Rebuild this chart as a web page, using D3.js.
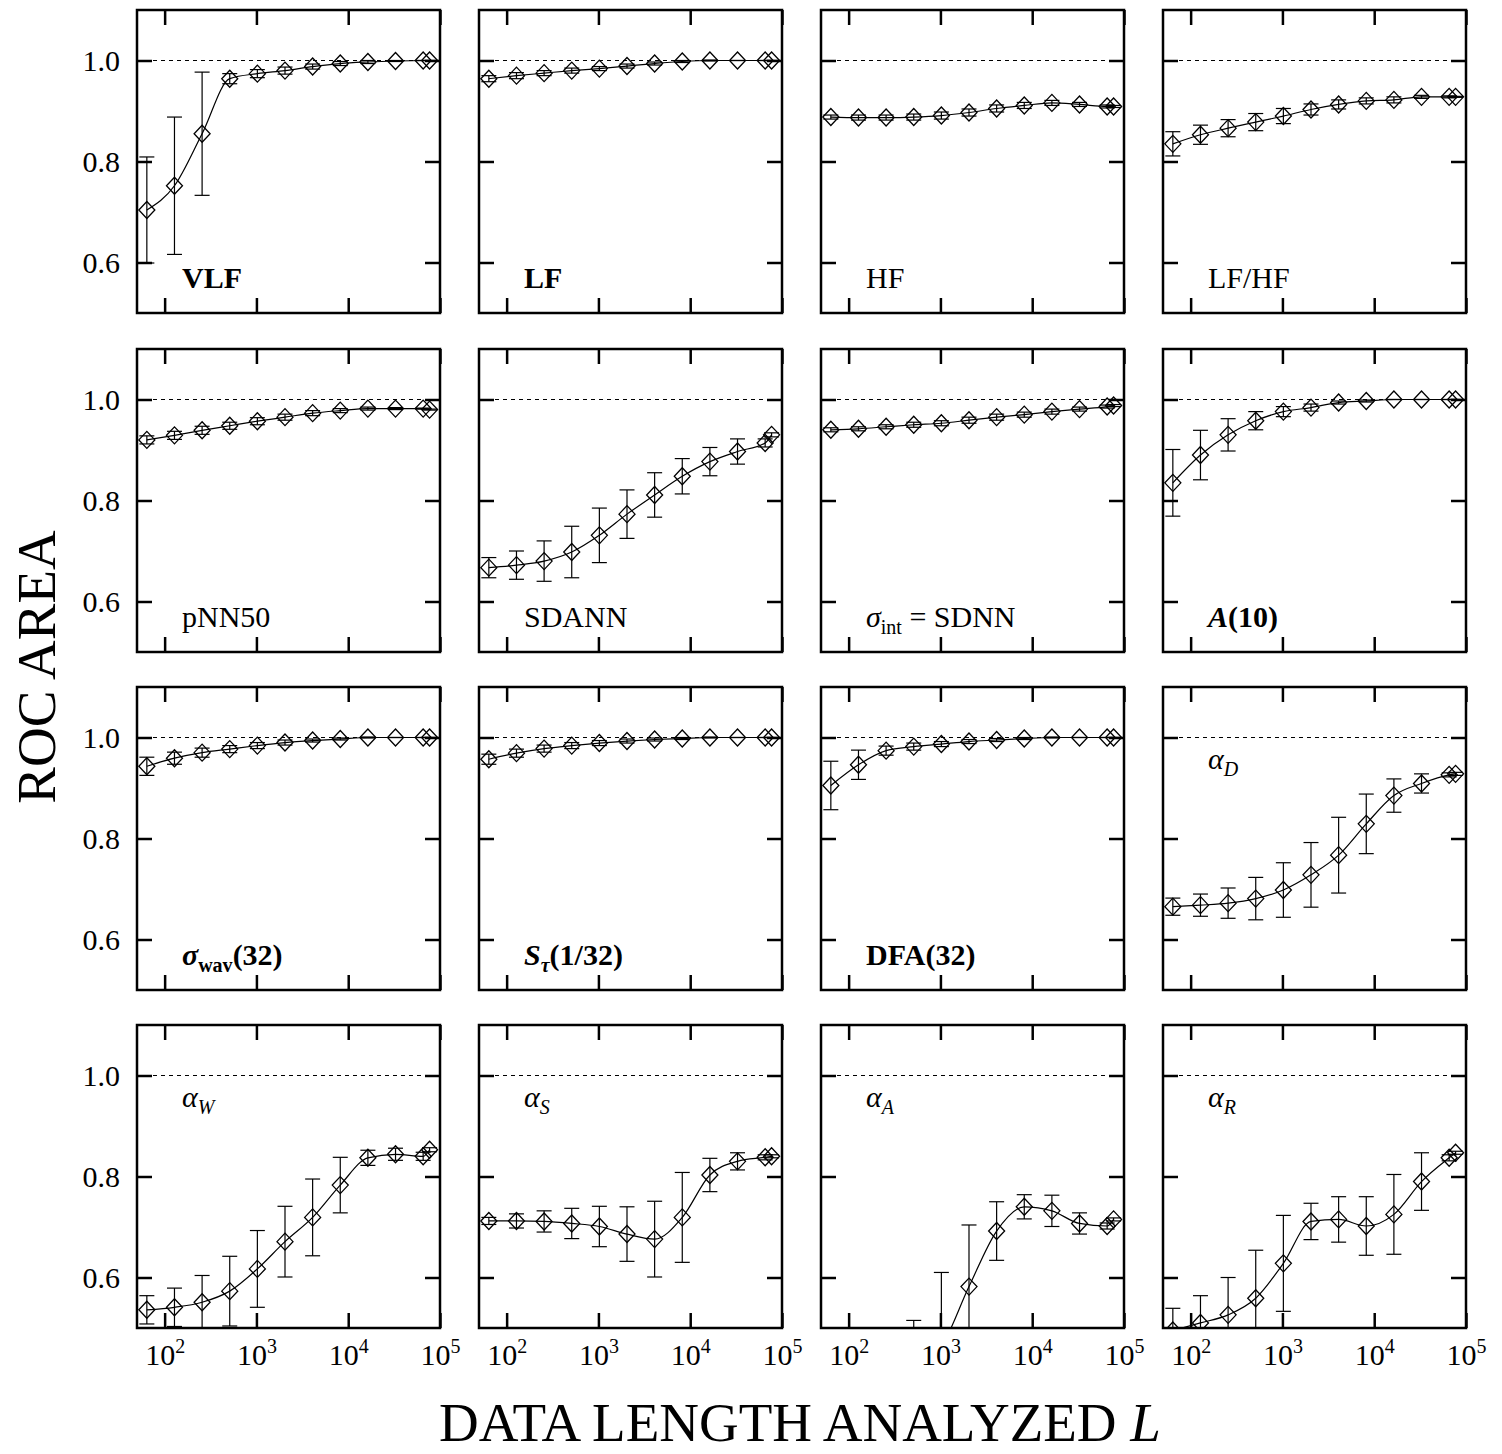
<!DOCTYPE html>
<html>
<head>
<meta charset="utf-8">
<script src="https://cdn.jsdelivr.net/npm/d3@7"></script>
<style>
  body { margin: 0; background: #fff; }
  svg text { font-family: "Liberation Serif", "Times New Roman", serif; fill: #000; white-space: pre; }
</style>
</head>
<body>
<svg id="chart" width="1502" height="1454"></svg>
<script>
// data length analyzed (beats); last point is the full record
var lengths = [64, 128, 256, 512, 1024, 2048, 4096, 8192, 16384, 32768, 65536, 77000];

var vlf     = [0.704, 0.752, 0.855, 0.964, 0.974, 0.980, 0.988, 0.994, 0.997, 0.999, 1.000, 1.000];
var vlfErr  = [0.105, 0.136, 0.122, 0.010, 0.008, 0.007, 0.005, 0.004, 0.003, 0.001, 0, 0];
var lf      = [0.964, 0.970, 0.975, 0.980, 0.984, 0.989, 0.994, 0.998, 1.000, 1.000, 1.000, 1.000];
var lfErr   = [0.006, 0.006, 0.005, 0.005, 0.004, 0.004, 0.003, 0.002, 0.001, 0, 0, 0];
var hf      = [0.888, 0.887, 0.887, 0.888, 0.891, 0.897, 0.905, 0.911, 0.916, 0.913, 0.909, 0.909];
var hfErr   = [0.004, 0.005, 0.005, 0.006, 0.007, 0.007, 0.007, 0.006, 0.005, 0.004, 0.003, 0.002];
var lfhf    = [0.835, 0.853, 0.866, 0.878, 0.890, 0.903, 0.913, 0.920, 0.922, 0.928, 0.928, 0.928];
var lfhfErr = [0.024, 0.019, 0.017, 0.017, 0.015, 0.011, 0.009, 0.006, 0.006, 0.003, 0.002, 0.001];

var pnn50    = [0.920, 0.929, 0.939, 0.948, 0.957, 0.965, 0.973, 0.978, 0.982, 0.982, 0.982, 0.980];
var pnn50Err = [0.008, 0.008, 0.008, 0.007, 0.007, 0.006, 0.005, 0.004, 0.003, 0.002, 0.001, 0.001];
var sdann    = [0.667, 0.672, 0.680, 0.698, 0.731, 0.773, 0.811, 0.848, 0.877, 0.897, 0.914, 0.930];
var sdannErr = [0.020, 0.028, 0.040, 0.051, 0.054, 0.048, 0.044, 0.035, 0.028, 0.025, 0.008, 0.004];
var sdnn     = [0.940, 0.942, 0.946, 0.950, 0.953, 0.959, 0.965, 0.970, 0.976, 0.981, 0.986, 0.988];
var sdnnErr  = [0.004, 0.004, 0.004, 0.005, 0.005, 0.006, 0.006, 0.005, 0.005, 0.004, 0.003, 0.002];
var a10      = [0.835, 0.890, 0.930, 0.958, 0.976, 0.984, 0.994, 0.997, 1.000, 1.000, 1.000, 1.000];
var a10Err   = [0.066, 0.049, 0.032, 0.018, 0.010, 0.007, 0.003, 0.002, 0, 0, 0, 0];

var swav     = [0.943, 0.959, 0.970, 0.977, 0.984, 0.990, 0.994, 0.997, 1.000, 1.000, 1.000, 1.000];
var swavErr  = [0.018, 0.012, 0.009, 0.007, 0.006, 0.005, 0.003, 0.002, 0.001, 0, 0, 0];
var stau     = [0.957, 0.969, 0.978, 0.984, 0.989, 0.993, 0.996, 0.998, 1.000, 1.000, 1.000, 1.000];
var stauErr  = [0.010, 0.008, 0.007, 0.006, 0.005, 0.004, 0.003, 0.002, 0.001, 0, 0, 0];
var dfa      = [0.905, 0.946, 0.974, 0.982, 0.987, 0.992, 0.995, 0.998, 1.000, 1.000, 1.000, 1.000];
var dfaErr   = [0.048, 0.029, 0.009, 0.007, 0.005, 0.004, 0.003, 0.002, 0.001, 0, 0, 0];
var alphaD   = [0.665, 0.668, 0.672, 0.681, 0.698, 0.728, 0.767, 0.829, 0.885, 0.909, 0.926, 0.928];
var alphaDErr= [0.017, 0.022, 0.030, 0.042, 0.054, 0.064, 0.075, 0.059, 0.033, 0.019, 0.004, 0.003];

var alphaW   = [0.536, 0.541, 0.551, 0.573, 0.617, 0.671, 0.719, 0.783, 0.837, 0.844, 0.840, 0.853];
var alphaWErr= [0.028, 0.038, 0.053, 0.069, 0.076, 0.070, 0.076, 0.055, 0.015, 0.012, 0.008, 0.004];
var alphaS   = [0.712, 0.712, 0.711, 0.707, 0.701, 0.686, 0.676, 0.719, 0.803, 0.830, 0.838, 0.840];
var alphaSErr= [0.007, 0.014, 0.021, 0.030, 0.040, 0.054, 0.075, 0.089, 0.033, 0.017, 0.005, 0.003];
var alphaA   = [0.400, 0.400, 0.410, 0.420, 0.463, 0.582, 0.692, 0.740, 0.732, 0.707, 0.702, 0.715];
var alphaAErr= [0.050, 0.060, 0.070, 0.095, 0.147, 0.122, 0.058, 0.024, 0.031, 0.021, 0.006, 0.003];
var alphaR   = [0.495, 0.510, 0.526, 0.559, 0.628, 0.711, 0.715, 0.702, 0.725, 0.790, 0.837, 0.847];
var alphaRErr= [0.044, 0.054, 0.074, 0.095, 0.095, 0.036, 0.045, 0.058, 0.079, 0.057, 0.006, 0.003];

var yTicks = [0.6, 0.8, 1.0];
var xTicks = [1e2, 1e3, 1e4, 1e5];

// label pieces: b = bold, i = italic, sub = subscript
var panels = [
  {mean: vlf,    err: vlfErr,    pos: 'bottom', label: [{t: 'VLF', b: 1}]},
  {mean: lf,     err: lfErr,     pos: 'bottom', label: [{t: 'LF', b: 1}]},
  {mean: hf,     err: hfErr,     pos: 'bottom', label: [{t: 'HF'}]},
  {mean: lfhf,   err: lfhfErr,   pos: 'bottom', label: [{t: 'LF/HF'}]},
  {mean: pnn50,  err: pnn50Err,  pos: 'bottom', label: [{t: 'pNN50'}]},
  {mean: sdann,  err: sdannErr,  pos: 'bottom', label: [{t: 'SDANN'}]},
  {mean: sdnn,   err: sdnnErr,   pos: 'bottom', label: [{t: 'σ', i: 1}, {t: 'int', sub: 1}, {t: ' = SDNN'}]},
  {mean: a10,    err: a10Err,    pos: 'bottom', label: [{t: 'A', b: 1, i: 1}, {t: '(10)', b: 1}]},
  {mean: swav,   err: swavErr,   pos: 'bottom', label: [{t: 'σ', b: 1, i: 1}, {t: 'wav', b: 1, sub: 1}, {t: '(32)', b: 1}]},
  {mean: stau,   err: stauErr,   pos: 'bottom', label: [{t: 'S', b: 1, i: 1}, {t: 'τ', b: 1, i: 1, sub: 1}, {t: '(1/32)', b: 1}]},
  {mean: dfa,    err: dfaErr,    pos: 'bottom', label: [{t: 'DFA(32)', b: 1}]},
  {mean: alphaD, err: alphaDErr, pos: 'top',    label: [{t: 'α', i: 1}, {t: 'D', i: 1, sub: 1}]},
  {mean: alphaW, err: alphaWErr, pos: 'top',    label: [{t: 'α', i: 1}, {t: 'W', i: 1, sub: 1}]},
  {mean: alphaS, err: alphaSErr, pos: 'top',    label: [{t: 'α', i: 1}, {t: 'S', i: 1, sub: 1}]},
  {mean: alphaA, err: alphaAErr, pos: 'top',    label: [{t: 'α', i: 1}, {t: 'A', i: 1, sub: 1}]},
  {mean: alphaR, err: alphaRErr, pos: 'top',    label: [{t: 'α', i: 1}, {t: 'R', i: 1, sub: 1}]}
];

var colX = [137, 479, 821, 1163],
    rowY = [10, 349, 687, 1025],
    pw = 303, ph = 303;

var x = d3.scaleLog().domain([50, 1e5]).range([0, pw]);
var y = d3.scaleLinear().domain([0.5, 1.1]).range([ph, 0]);

var svg = d3.select("#chart");
var defs = svg.append("defs");
defs.append("clipPath").attr("id", "panel-clip")
    .append("rect").attr("width", pw).attr("height", ph);

var line = d3.line()
    .x(function (d) { return x(d.L); })
    .y(function (d) { return y(d.v); })
    .curve(d3.curveMonotoneX);

var diamond = "M0,-8.5L8,0L0,8.5L-8,0Z";

panels.forEach(function (p, k) {
  var col = k % 4, row = Math.floor(k / 4);
  var g = svg.append("g").attr("transform", "translate(" + colX[col] + "," + rowY[row] + ")");

  var data = lengths.map(function (L, i) { return {L: L, v: p.mean[i], e: p.err[i]}; });

  // reference line at 1.0
  g.append("line")
      .attr("x1", 0).attr("x2", pw)
      .attr("y1", y(1)).attr("y2", y(1))
      .attr("stroke", "#000").attr("stroke-width", 1)
      .attr("stroke-dasharray", "4,4");

  var plot = g.append("g").attr("clip-path", "url(#panel-clip)");

  var bars = plot.selectAll(".ebar").data(data).enter().append("g").attr("class", "ebar");
  bars.append("line")
      .attr("x1", function (d) { return x(d.L); }).attr("x2", function (d) { return x(d.L); })
      .attr("y1", function (d) { return y(d.v - d.e); }).attr("y2", function (d) { return y(d.v + d.e); });
  bars.append("line")
      .attr("x1", function (d) { return x(d.L) - 7.5; }).attr("x2", function (d) { return x(d.L) + 7.5; })
      .attr("y1", function (d) { return y(d.v + d.e); }).attr("y2", function (d) { return y(d.v + d.e); });
  bars.append("line")
      .attr("x1", function (d) { return x(d.L) - 7.5; }).attr("x2", function (d) { return x(d.L) + 7.5; })
      .attr("y1", function (d) { return y(d.v - d.e); }).attr("y2", function (d) { return y(d.v - d.e); });
  bars.selectAll("line").attr("stroke", "#000").attr("stroke-width", 1.2);

  plot.append("path").datum(data)
      .attr("d", line)
      .attr("fill", "none").attr("stroke", "#000").attr("stroke-width", 1.2);

  plot.selectAll(".pt").data(data).enter().append("path")
      .attr("class", "pt")
      .attr("transform", function (d) { return "translate(" + x(d.L) + "," + y(d.v) + ")"; })
      .attr("d", diamond)
      .attr("fill", "none").attr("stroke", "#000").attr("stroke-width", 1.3);

  // inward ticks on all four sides
  var left = d3.axisLeft(y).tickValues(yTicks).tickSizeInner(-15).tickSizeOuter(0).tickPadding(17)
      .tickFormat(col === 0 ? d3.format(".1f") : function () { return ""; });
  var right = d3.axisRight(y).tickValues(yTicks).tickSizeInner(-15).tickSizeOuter(0).tickFormat(function () { return ""; });
  var top = d3.axisTop(x).tickValues(xTicks).tickSizeInner(-15).tickSizeOuter(0).tickFormat(function () { return ""; });
  var bottom = d3.axisBottom(x).tickValues(xTicks).tickSizeInner(-15).tickSizeOuter(0).tickPadding(16)
      .tickFormat(function (d) { return row === 3 ? String(Math.round(Math.log10(d))) : ""; });

  var axL = g.append("g").call(left);
  var axR = g.append("g").attr("transform", "translate(" + pw + ",0)").call(right);
  var axT = g.append("g").call(top);
  var axB = g.append("g").attr("transform", "translate(0," + ph + ")").call(bottom);

  [axL, axR, axT, axB].forEach(function (a) {
    a.select(".domain").remove();
    a.selectAll(".tick line").attr("stroke", "#000").attr("stroke-width", 2.5);
    a.selectAll("text").attr("font-family", null).attr("font-size", 30).attr("fill", "#000");
  });

  if (row === 3) {
    axB.selectAll(".tick text").each(function () {
      var t = d3.select(this), ex = t.text();
      t.text(null).attr("font-size", 30);
      t.append("tspan").text("10");
      t.append("tspan").attr("dy", -12).attr("font-size", 20).text(ex);
    });
  }

  // frame
  g.append("rect").attr("width", pw).attr("height", ph)
      .attr("fill", "none").attr("stroke", "#000").attr("stroke-width", 2.5);

  // panel label
  var lab = g.append("text")
      .attr("x", 45)
      .attr("y", p.pos === 'top' ? 82 : 278)
      .attr("font-size", 30);
  var shift = 0;
  p.label.forEach(function (part) {
    var target = part.sub ? 7 : 0;
    lab.append("tspan")
        .attr("dy", target - shift)
        .attr("font-size", part.sub ? 20 : 30)
        .attr("font-weight", part.b ? "bold" : "normal")
        .attr("font-style", part.i ? "italic" : "normal")
        .text(part.t);
    shift = target;
  });
});

// axis titles
svg.append("text")
    .attr("transform", "translate(55,667) rotate(-90)")
    .attr("text-anchor", "middle")
    .attr("font-size", 55)
    .text("ROC AREA");

var xt = svg.append("text")
    .attr("x", 800).attr("y", 1441)
    .attr("text-anchor", "middle")
    .attr("font-size", 55);
xt.append("tspan").text("DATA LENGTH ANALYZED ");
xt.append("tspan").attr("font-style", "italic").text("L");
</script>
</body>
</html>
